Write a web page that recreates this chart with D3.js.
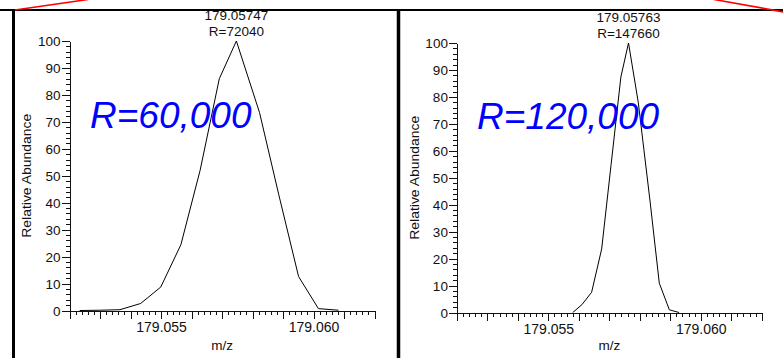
<!DOCTYPE html>
<html>
<head>
<meta charset="utf-8">
<script src="https://cdn.jsdelivr.net/npm/d3@7"></script>
<style>
  html, body { margin: 0; padding: 0; background: #fff; }
  svg { display: block; }
  text { font-family: "Liberation Sans", Arial, sans-serif; }
</style>
</head>
<body>
<script>
// Centroid peak of m/z 179.0576 acquired at two resolution settings
const mzDomain = [179.052, 179.062];
const abundanceDomain = [0, 100];

const leftMz = [179.05233, 179.05299, 179.05365, 179.05433, 179.05499, 179.05565,
                179.05628, 179.05691, 179.05747, 179.05823, 179.05886, 179.05951,
                179.06016, 179.06082];
const leftAbundance = [0.0, 0.1, 0.3, 2.6, 8.7, 24.4, 52, 86, 100, 73.4, 43, 12.6, 0.7, 0.1];

const rightMz = [179.05580, 179.05610, 179.05642, 179.05675, 179.05706, 179.05738,
                 179.05763, 179.05795, 179.05834, 179.05864, 179.05897, 179.05929];
const rightAbundance = [0.0, 2.9, 7.5, 23.6, 55, 87.4, 100, 78, 41, 10.9, 1.0, 0.0];

const peakMzLabels = ["179.05747", "179.05763"];
const peakRLabels = ["R=72040", "R=147660"];
const resolutionLabels = ["R=60,000", "R=120,000"];
const xTickLabels = ["179.055", "179.060"];
const yTickLabels = ["0", "10", "20", "30", "40", "50", "60", "70", "80", "90", "100"];
const yTitle = "Relative Abundance";
const xTitle = "m/z";

const W = 783, H = 358;
const svg = d3.select("body").append("svg").attr("width", W).attr("height", H);

// Panel frames
svg.append("line").attr("x1", 0).attr("x2", W).attr("y1", 10).attr("y2", 10)
  .attr("stroke", "#000").attr("stroke-width", 2.2);
svg.append("line").attr("x1", 13.5).attr("x2", 13.5).attr("y1", 9).attr("y2", H)
  .attr("stroke", "#000").attr("stroke-width", 3);
svg.append("line").attr("x1", 398.5).attr("x2", 398.5).attr("y1", 9).attr("y2", H)
  .attr("stroke", "#000").attr("stroke-width", 3.5);

// Red guide lines leading off the top edge
svg.append("line").attr("x1", 15).attr("y1", 10).attr("x2", 88).attr("y2", -0.5)
  .attr("stroke", "#ff0000").attr("stroke-width", 1.6);
svg.append("line").attr("x1", 714).attr("y1", -0.5).attr("x2", 784).attr("y2", 12)
  .attr("stroke", "#ff0000").attr("stroke-width", 1.6);

const panels = [
  { x0: 69.6, x1: 374.5, y0: 310.5, y1: 41, mz: leftMz, ab: leftAbundance,
    titleX: 27, resX: 90, resY: 128, i: 0 },
  { x0: 456.9, x1: 761.7, y0: 312.5, y1: 43, mz: rightMz, ab: rightAbundance,
    titleX: 415, resX: 477, resY: 129, i: 1 }
];

const minorX = d3.range(0, 51).map(k => 179.052 + k * 0.0002);
const midX = d3.range(0, 11).map(k => 179.052 + k * 0.001);
const labelX = xTickLabels.map(Number);
const minorY = d3.range(0, 51).map(k => k * 2);
const majorY = yTickLabels.map(Number);

panels.forEach(p => {
  const x = d3.scaleLinear().domain(mzDomain).range([p.x0, p.x1]);
  const y = d3.scaleLinear().domain(abundanceDomain).range([p.y0, p.y1]);
  const g = svg.append("g");

  // x axis: minor, intermediate and labelled ticks
  const xa = g.append("g").attr("transform", `translate(0,${p.y0})`);
  xa.call(d3.axisBottom(x).tickValues(minorX).tickSize(4).tickSizeOuter(0).tickFormat(""));
  xa.append("g").call(d3.axisBottom(x).tickValues(midX).tickSize(8).tickSizeOuter(0).tickFormat(""))
    .select(".domain").remove();
  xa.append("g").call(d3.axisBottom(x).tickValues(labelX).tickSize(8).tickSizeOuter(0)
      .tickFormat(d => d3.format(".3f")(d)))
    .call(s => s.select(".domain").remove())
    .call(s => s.selectAll("text").attr("y", 12).attr("font-size", 14).attr("fill", "#111"));

  // y axis
  const ya = g.append("g").attr("transform", `translate(${p.x0},0)`);
  ya.call(d3.axisLeft(y).tickValues(minorY).tickSize(4).tickSizeOuter(0).tickFormat(""));
  ya.append("g").call(d3.axisLeft(y).tickValues(majorY).tickSize(8).tickSizeOuter(0)
      .tickFormat((d, k) => yTickLabels[k]))
    .call(s => s.select(".domain").remove())
    .call(s => s.selectAll("text").attr("x", -9).attr("dy", "0.36em").attr("font-size", 13.5).attr("fill", "#111"));

  g.selectAll(".domain, .tick line").attr("stroke", "#111").attr("shape-rendering", "crispEdges");

  // axis titles
  g.append("text").attr("transform", `translate(${p.titleX + 4},${(p.y0 + p.y1) / 2}) rotate(-90)`)
    .attr("text-anchor", "middle").attr("font-size", 13.5).attr("fill", "#111")
    .attr("textLength", 124).attr("lengthAdjust", "spacingAndGlyphs").text(yTitle);
  g.append("text").attr("x", (p.x0 + p.x1) / 2).attr("y", 350)
    .attr("text-anchor", "middle").attr("font-size", 13.5).attr("fill", "#111").text(xTitle);

  // profile trace
  const line = d3.line().x((d, k) => x(p.mz[k])).y(d => y(d));
  g.append("path").datum(p.ab).attr("d", line)
    .attr("fill", "none").attr("stroke", "#000").attr("stroke-width", 1);

  // apex annotation
  const k = p.ab.indexOf(d3.max(p.ab));
  const ax = x(p.mz[k]);
  g.append("text").attr("x", ax).attr("y", y(p.ab[k]) - 21).attr("text-anchor", "middle")
    .attr("font-size", 13.5).attr("fill", "#111").text(peakMzLabels[p.i]);
  g.append("text").attr("x", ax).attr("y", y(p.ab[k]) - 5).attr("text-anchor", "middle")
    .attr("font-size", 13.5).attr("fill", "#111").text(peakRLabels[p.i]);

  // resolution setting
  g.append("text").attr("x", p.resX).attr("y", p.resY)
    .attr("font-size", 37).attr("font-style", "italic").attr("fill", "#0000ff")
    .text(resolutionLabels[p.i]);
});
</script>
</body>
</html>
